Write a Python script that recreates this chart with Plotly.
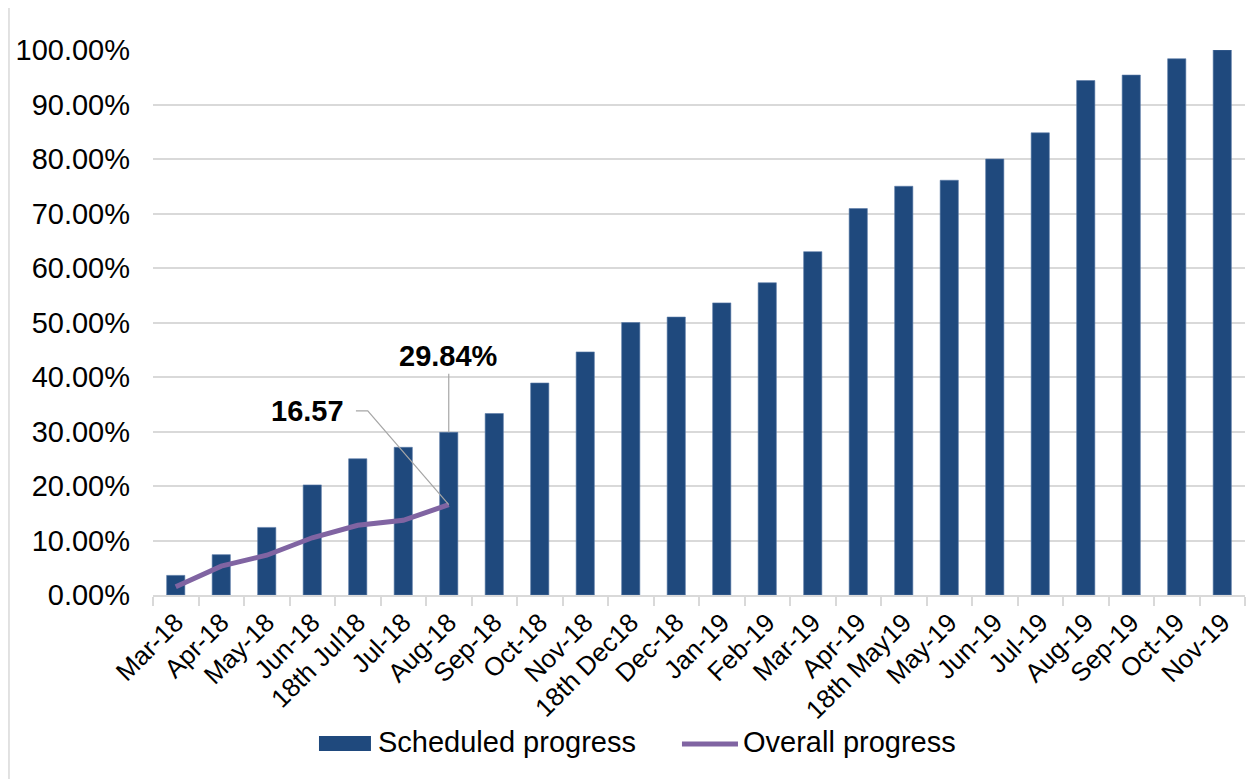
import plotly.graph_objects as go

categories = ["Mar-18", "Apr-18", "May-18", "Jun-18", "18th Jul18", "Jul-18", "Aug-18",
              "Sep-18", "Oct-18", "Nov-18", "18th Dec18", "Dec-18", "Jan-19", "Feb-19",
              "Mar-19", "Apr-19", "18th May19", "May-19", "Jun-19", "Jul-19", "Aug-19",
              "Sep-19", "Oct-19", "Nov-19"]
scheduled = [3.6, 7.4, 12.4, 20.2, 25.0, 27.1, 29.84, 33.3, 38.9, 44.6, 50.0, 51.0,
             53.6, 57.3, 63.0, 70.9, 75.0, 76.1, 80.0, 84.8, 94.4, 95.4, 98.4, 100.0]
overall_cats = categories[:7]
overall = [1.5, 5.3, 7.3, 10.5, 12.8, 13.7, 16.57]
y_ticks = [0, 10, 20, 30, 40, 50, 60, 70, 80, 90, 100]
series_names = ["Scheduled progress", "Overall progress"]

FONT = "Liberation Sans, Arial, sans-serif"
BAR = "#1F497D"
LINE = "#8064A2"

fig = go.Figure()
fig.add_trace(go.Bar(x=categories, y=scheduled, name=series_names[0], showlegend=False,
                     marker=dict(color=BAR, line=dict(color="#5a7aa8", width=0.6))))
fig.add_trace(go.Scatter(x=overall_cats, y=overall, name=series_names[1], mode="lines",
                         showlegend=False, line=dict(color=LINE, width=5)))

last_i = len(overall) - 1
bar_i = categories.index("Aug-18")

# data label annotations
fig.add_annotation(x=categories[bar_i], y=scheduled[bar_i], text="<b>29.84%</b>",
                   showarrow=True, arrowhead=0, arrowwidth=1.2, arrowcolor="#a6a6a6",
                   ax=0, ay=-76, font=dict(family=FONT, size=29, color="black"))
fig.add_annotation(x=bar_i - 2.04, y=33.8, xref="x", yref="y", text="<b>16.57</b>",
                   showarrow=False, xanchor="right", yanchor="middle", xshift=-10,
                   font=dict(family=FONT, size=29, color="black"))
fig.add_shape(type="path", xref="x", yref="y",
              path=f"M {last_i},{overall[last_i]} L {last_i-1.78},33.8 L {last_i-2.04},33.8",
              line=dict(color="#a6a6a6", width=1.2))

# legend drawn manually (wide swatches like the original)
fig.add_shape(type="rect", xref="paper", yref="paper", x0=0.1520, x1=0.1996,
              y0=-0.2862, y1=-0.2587, fillcolor=BAR, line=dict(width=0))
fig.add_annotation(xref="paper", yref="paper", x=0.2042, y=-0.2697, text=series_names[0],
                   showarrow=False, xanchor="left", yanchor="middle",
                   font=dict(family=FONT, size=29, color="black"))
fig.add_shape(type="line", xref="paper", yref="paper", x0=0.4844, x1=0.5357,
              y0=-0.2734, y1=-0.2734, line=dict(color=LINE, width=5))
fig.add_annotation(xref="paper", yref="paper", x=0.5385, y=-0.2697, text=series_names[1],
                   showarrow=False, xanchor="left", yanchor="middle",
                   font=dict(family=FONT, size=29, color="black"))

# outer border
fig.add_shape(type="rect", xref="paper", yref="paper",
              x0=-0.1319, x1=1.05, y0=-0.5, y1=1.0789,
              line=dict(color="#d9d9d9", width=1.5), fillcolor="rgba(0,0,0,0)")

fig.update_layout(
    width=1246, height=771,
    margin=dict(l=145, r=9, t=42, b=184),
    paper_bgcolor="white", plot_bgcolor="white",
    bargap=0.6,
    font=dict(family=FONT, color="black"),
    showlegend=False,
)
fig.update_xaxes(type="category", showline=True, linecolor="#d9d9d9", linewidth=2,
                 ticks="outside", tickson="boundaries", ticklen=9, tickcolor="#d9d9d9",
                 tickwidth=2, tickangle=-45, tickfont=dict(family=FONT, size=26),
                 showgrid=False, automargin=False)
fig.update_yaxes(range=[0, 100], tickvals=y_ticks,
                 ticktext=[f"{v:.2f}%" for v in y_ticks],
                 showgrid=True, gridcolor="#d9d9d9", gridwidth=2, zeroline=False,
                 showline=False, ticks="", ticklabelstandoff=22, automargin=False,
                 tickfont=dict(family=FONT, size=29))

fig.write_html("out.html")
